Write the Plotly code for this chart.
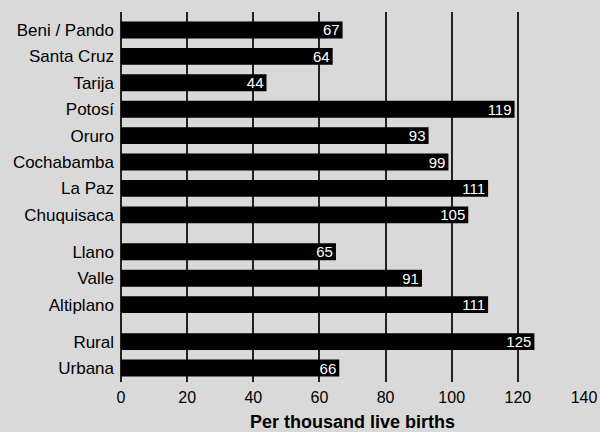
import plotly.graph_objects as go

groups = [
    ["Beni / Pando", "Santa Cruz", "Tarija", "Potosí", "Oruro", "Cochabamba", "La Paz", "Chuquisaca"],
    ["Llano", "Valle", "Altiplano"],
    ["Rural", "Urbana"],
]
values = [
    [67, 64, 44, 119, 93, 99, 111, 105],
    [65, 91, 111],
    [125, 66],
]
x_ticks = [0, 20, 40, 60, 80, 100, 120, 140]

GAP = 0.4
labels, vals, pos = [], [], []
k = 0
for gi, (g, v) in enumerate(zip(groups, values)):
    for name, val in zip(g, v):
        labels.append(name)
        vals.append(val)
        pos.append(k + gi * GAP)
        k += 1

bg = "#d9d9d9"
fig = go.Figure(go.Bar(
    x=vals, y=pos, orientation="h",
    marker=dict(color="black", line=dict(width=0)),
    width=0.64,
    text=[str(v) for v in vals],
    textposition="inside", insidetextanchor="end",
    textangle=0, constraintext="none",
    textfont=dict(color="white", size=15, family="Liberation Sans"),
    cliponaxis=False,
))
fig.update_layout(
    width=600, height=432,
    margin=dict(l=121, r=16, t=12, b=50, autoexpand=False),
    paper_bgcolor=bg, plot_bgcolor=bg,
    font=dict(family="Liberation Sans", size=16, color="black"),
    showlegend=False,
    xaxis=dict(
        range=[0, 140], tickvals=x_ticks, ticktext=[str(t) for t in x_ticks],
        showgrid=True, gridcolor="#222", gridwidth=1.5,
        zeroline=True, zerolinecolor="#222", zerolinewidth=1.5,
        showline=False, ticks="", tickfont=dict(size=16), automargin=False,
        ticklabelstandoff=4,
        title=dict(text="<b>Per thousand live births</b>", font=dict(size=18), standoff=10),
    ),
    yaxis=dict(
        range=[pos[-1] + 0.53, -0.68], tickvals=pos, ticktext=labels,
        showgrid=False, zeroline=False, showline=False, ticks="",
        tickfont=dict(size=17), ticklabelstandoff=6, automargin=False,
    ),
)
fig.write_html("out.html")
